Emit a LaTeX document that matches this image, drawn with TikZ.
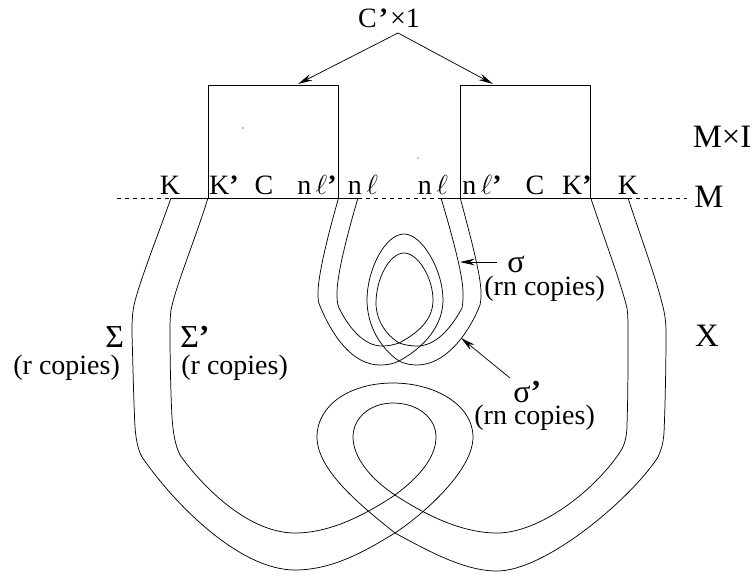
\documentclass[tikz,border=0pt]{standalone}
\usepackage{fontspec}
\setmainfont{Liberation Serif}
\usetikzlibrary{arrows.meta}

\begin{document}
\begin{tikzpicture}[
  x=0.75pt,y=-0.75pt,
  handlebox/.style={draw,minimum width=97.9pt,minimum height=84.75pt,inner sep=0pt,outer sep=0pt},
  footlabel/.style={anchor=base,inner sep=0pt,font=\fontsize{21}{24}\selectfont},
  biglabel/.style={anchor=base,inner sep=0pt,font=\fontsize{24.5}{28}\selectfont},
  copylabel/.style={anchor=base west,inner sep=0pt,font=\fontsize{21}{24}\selectfont},
  greeklabel/.style={anchor=base west,inner sep=0pt,font=\fontsize{24}{28}\selectfont},
  strand/.style={line width=0.55pt},
  arcarr/.style={-{Stealth[length=11pt,width=5pt]},line width=0.55pt},
  line width=0.55pt
]
  \useasboundingbox (0,0) rectangle (752,575);

  % Top label and the two boxes
  \node[footlabel] (cross) at (389,27) {C\hspace{1.5pt}\textbf{'}\hspace{1.5pt}×1};
  \coordinate (apex) at (398,33);
  \node[handlebox] (boxl) at (273.25,141.5) {};
  \node[handlebox] (boxr) at (525.5,141.5) {};
  \coordinate (tipl) at (298,84);
  \coordinate (tipr) at (493,84);
  \draw[arcarr] (apex) -- (tipl);
  \draw[arcarr] (apex) -- (tipr);

  % Feet of the strands on M
  \coordinate (kl) at (171,198);
  \coordinate (kpl) at (boxl.south west);
  \coordinate (lpl) at (boxl.south east);
  \coordinate (ll) at (358,198);
  \coordinate (lr) at (441,198);
  \coordinate (lpr) at (boxr.south west);
  \coordinate (kpr) at (boxr.south east);
  \coordinate (kr) at (628,198);

  % The line M
  \coordinate (mleft) at (117,198);
  \coordinate (mright) at (687,198);
  \draw[dashed] (mleft) -- (kl);
  \draw (kl) -- (ll);
  \draw[dashed] (ll) -- (lr);
  \draw (lr) -- (kr);
  \draw[dashed] (kr) -- (mright);

  % Labels on M
  \node[footlabel] (kla) at (170,194) {K};
  \node[footlabel] (kpla) at (224,194) {K\textbf{'}};
  \node[footlabel] (cla) at (264,194) {C};
  \node[footlabel] (lpla) at (317,194) {n\,$\ell$\textbf{'}};
  \node[footlabel] (lla) at (363,194) {n\,$\ell$};
  \node[footlabel] (lra) at (433,194) {n\,$\ell$};
  \node[footlabel] (lpra) at (482,194) {n\,$\ell$\textbf{'}};
  \node[footlabel] (cra) at (535,194) {C};
  \node[footlabel] (kpra) at (577,194) {K\textbf{'}};
  \node[footlabel] (kra) at (628,194) {K};

  % Labels at the right
  \node[biglabel] (mi) at (722,147) {M×I};
  \node[biglabel] (mm) at (709,207) {M};
  \node[biglabel] (xx) at (707,346) {X};

  % Long strands
  \draw[strand] (kl) .. controls (158,235) and (140,280) .. (134,305)
    .. controls (132,315) and (132,325) .. (132,333)
    .. controls (133,370) and (134,410) .. (135,427)
    .. controls (136,440) and (138,450) .. (142,457)
    .. controls (175,505) and (240,570) .. (295,570)
    .. controls (335,570) and (370,548) .. (395,533)
    .. controls (425,513) and (473,470) .. (473,437)
    .. controls (473,405) and (435,383) .. (393,383)
    .. controls (350,383) and (317,405) .. (317,437)
    .. controls (317,470) and (360,505) .. (395,533)
    .. controls (430,552) and (465,571) .. (497,571)
    .. controls (545,571) and (630,500) .. (658,457)
    .. controls (661,450) and (663,445) .. (664,433)
    .. controls (665,410) and (666,370) .. (666,333)
    .. controls (666,322) and (665,314) .. (662,303)
    .. controls (655,275) and (640,235) .. (kr);
  \draw[strand] (kpl) .. controls (195,240) and (176,285) .. (171,310)
    .. controls (170,318) and (170,325) .. (170,333)
    .. controls (170,365) and (171,400) .. (172,417)
    .. controls (173,432) and (175,445) .. (180,455)
    .. controls (205,490) and (250,533) .. (295,533)
    .. controls (330,533) and (365,515) .. (395,495)
    .. controls (418,478) and (436,458) .. (436,437)
    .. controls (436,418) and (418,403) .. (393,403)
    .. controls (370,403) and (353,418) .. (353,437)
    .. controls (353,458) and (372,480) .. (395,495)
    .. controls (430,518) and (465,533) .. (497,533)
    .. controls (540,533) and (595,490) .. (620,452)
    .. controls (625,445) and (627,435) .. (627,425)
    .. controls (628,395) and (628,365) .. (628,333)
    .. controls (628,322) and (628,315) .. (627,308)
    .. controls (620,280) and (603,235) .. (kpr);

  % Short strands
  \draw[strand] (lpl) .. controls (328,235) and (318,275) .. (318,293)
    .. controls (318,298) and (318,302) .. (320,306)
    .. controls (332,335) and (352,365) .. (380,365)
    .. controls (387,365) and (393,364) .. (399,361)
    .. controls (425,347) and (443,325) .. (443,300)
    .. controls (443,270) and (422,234) .. (404,234)
    .. controls (385,234) and (367,270) .. (367,300)
    .. controls (367,325) and (380,348) .. (399,361)
    .. controls (405,364) and (411,365) .. (417,365)
    .. controls (445,365) and (468,335) .. (480,305)
    .. controls (481,300) and (481,297) .. (481,293)
    .. controls (481,275) and (470,235) .. (lpr);
  \draw[strand] (ll) .. controls (347,235) and (337,275) .. (337,293)
    .. controls (337,298) and (337,303) .. (339,308)
    .. controls (350,330) and (365,346) .. (382,346)
    .. controls (388,346) and (393,345) .. (399,343)
    .. controls (418,333) and (433,320) .. (433,300)
    .. controls (433,278) and (418,253) .. (404,253)
    .. controls (390,253) and (376,278) .. (376,303)
    .. controls (376,320) and (386,335) .. (399,343)
    .. controls (405,345) and (411,346) .. (417,346)
    .. controls (435,346) and (450,330) .. (462,308)
    .. controls (463,303) and (463,298) .. (463,293)
    .. controls (463,275) and (452,235) .. (lr);

  % Labels of the strands
  \node[greeklabel] (sigl) at (105,347) {Σ};
  \node[copylabel] (rl) at (13,374) {(r copies)};
  \node[greeklabel] (sigpl) at (180,347) {Σ\textbf{'}};
  \node[copylabel] (rpl) at (181,374) {(r copies)};
  \node[greeklabel] (sigr) at (507,272) {σ};
  \node[copylabel] (rnr) at (484,295) {(rn copies)};
  \node[greeklabel] (sigpr) at (513,402) {σ\textbf{'}};
  \node[copylabel] (rnpr) at (474,424) {(rn copies)};

  % Arrows to the short strands
  \coordinate (sigfrom) at (497,262);
  \coordinate (sigto) at (460,262);
  \coordinate (sigpfrom) at (510,378);
  \coordinate (sigpto) at (461,338);
  \draw[arcarr] (sigfrom) -- (sigto);
  \draw[arcarr] (sigpfrom) -- (sigpto);

  % Specks
  \fill (243,128) circle (0.4pt);
  \fill (418,158) circle (0.4pt);
\end{tikzpicture}
\end{document}
